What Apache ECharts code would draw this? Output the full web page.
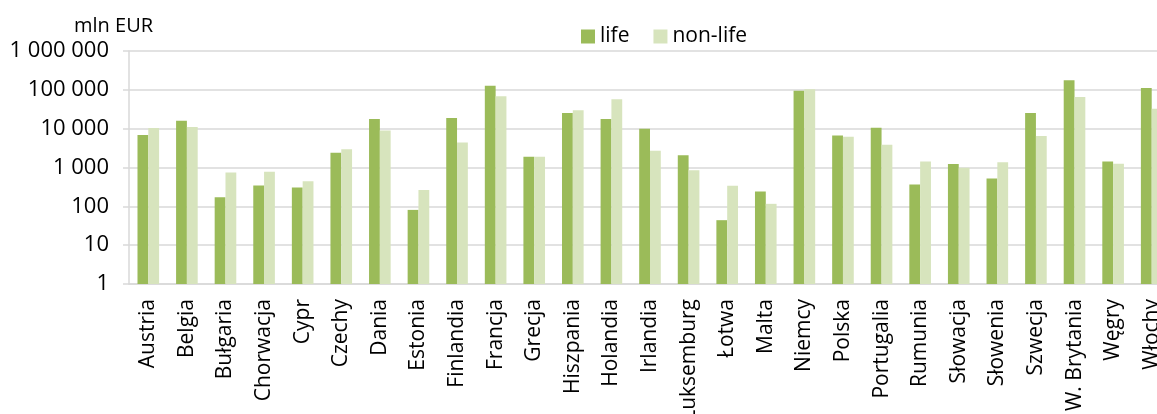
<!DOCTYPE html>
<html>
<head>
<meta charset="utf-8">
<title>life / non-life</title>
<script src="https://cdn.jsdelivr.net/npm/echarts@6/dist/echarts.min.js"></script>
<style>
    html, body {
        margin: 0;
        padding: 0;
        background: #fff;
    }

    #chart {
        width: 1157px;
        height: 414px;
    }
</style>
</head>
<body>
<div id="chart"></div>
<script>
// dane (mln EUR, skala logarytmiczna)
var countries = ['Austria', 'Belgia', 'Bułgaria', 'Chorwacja', 'Cypr', 'Czechy', 'Dania', 'Estonia',
    'Finlandia', 'Francja', 'Grecja', 'Hiszpania', 'Holandia', 'Irlandia', 'Luksemburg', 'Łotwa',
    'Malta', 'Niemcy', 'Polska', 'Portugalia', 'Rumunia', 'Słowacja', 'Słowenia', 'Szwecja',
    'W. Brytania', 'Węgry', 'Włochy']
var lifeValues = [6830, 15960, 172, 345, 306, 2390, 17660, 81,
    18750, 127600, 1884, 25200, 17660, 9930, 2080, 44,
    241, 94800, 6710, 10540, 366, 1222, 522, 25200,
    175800, 1432, 111300]
var nonLifeValues = [10350, 10970, 746, 773, 445, 2970, 9020, 265,
    4430, 67900, 1884, 29600, 56900, 2690, 855, 337,
    116, 103000, 6180, 3840, 1432, 980, 1374, 6440,
    65200, 1245, 32600]
var yMin = 1
var yMax = 1000000
var unitLabel = 'mln EUR'
var seriesNames = ['life', 'non-life']

var gridColor = '#d9d9d9'
var font = 'Open Sans'

function spaced (v) {
    return String(v).replace(/\B(?=(\d{3})+(?!\d))/g, ' ')
}

var myChart = echarts.init(document.getElementById('chart'))
myChart.setOption({
    animation: false,
    textStyle: {
        fontFamily: font
    },
    title: {
        text: unitLabel,
        left: 69,
        top: 11,
        textStyle: {
            fontFamily: font,
            fontWeight: 'normal',
            fontSize: 20,
            color: '#000'
        }
    },
    legend: {
        data: seriesNames,
        left: 576,
        top: 21,
        icon: 'rect',
        itemWidth: 14,
        itemHeight: 14,
        itemGap: 24,
        textStyle: {
            fontFamily: font,
            fontSize: 21,
            color: '#000'
        }
    },
    grid: {
        left: 129,
        top: 51,
        width: 1042,
        height: 233,
        outerBoundsMode: 'none',
        containLabel: false
    },
    xAxis: {
        type: 'category',
        data: countries,
        axisTick: {
            show: false
        },
        axisLine: {
            lineStyle: {
                color: gridColor,
                width: 1.5
            }
        },
        axisLabel: {
            rotate: 90,
            interval: 0,
            margin: 15,
            fontFamily: font,
            fontSize: 21,
            color: '#000'
        }
    },
    yAxis: {
        type: 'log',
        logBase: 10,
        min: yMin,
        max: yMax,
        axisLine: {
            show: true,
            lineStyle: {
                color: gridColor,
                width: 1.5
            }
        },
        axisTick: {
            show: true,
            length: 6,
            lineStyle: {
                color: gridColor,
                width: 1.5
            }
        },
        splitLine: {
            show: true,
            lineStyle: {
                color: gridColor,
                width: 1.5
            }
        },
        axisLabel: {
            margin: 20,
            fontFamily: font,
            fontSize: 22,
            color: '#000',
            formatter: function (v) {
                return spaced(Math.round(v))
            }
        }
    },
    series: [{
        name: seriesNames[0],
        type: 'bar',
        barGap: '0%',
        barCategoryGap: '44%',
        itemStyle: {
            color: '#9bbb59'
        },
        data: lifeValues
    }, {
        name: seriesNames[1],
        type: 'bar',
        barGap: '0%',
        barCategoryGap: '44%',
        itemStyle: {
            color: '#d7e4bd'
        },
        data: nonLifeValues
    }]
})
</script>
</body>
</html>
